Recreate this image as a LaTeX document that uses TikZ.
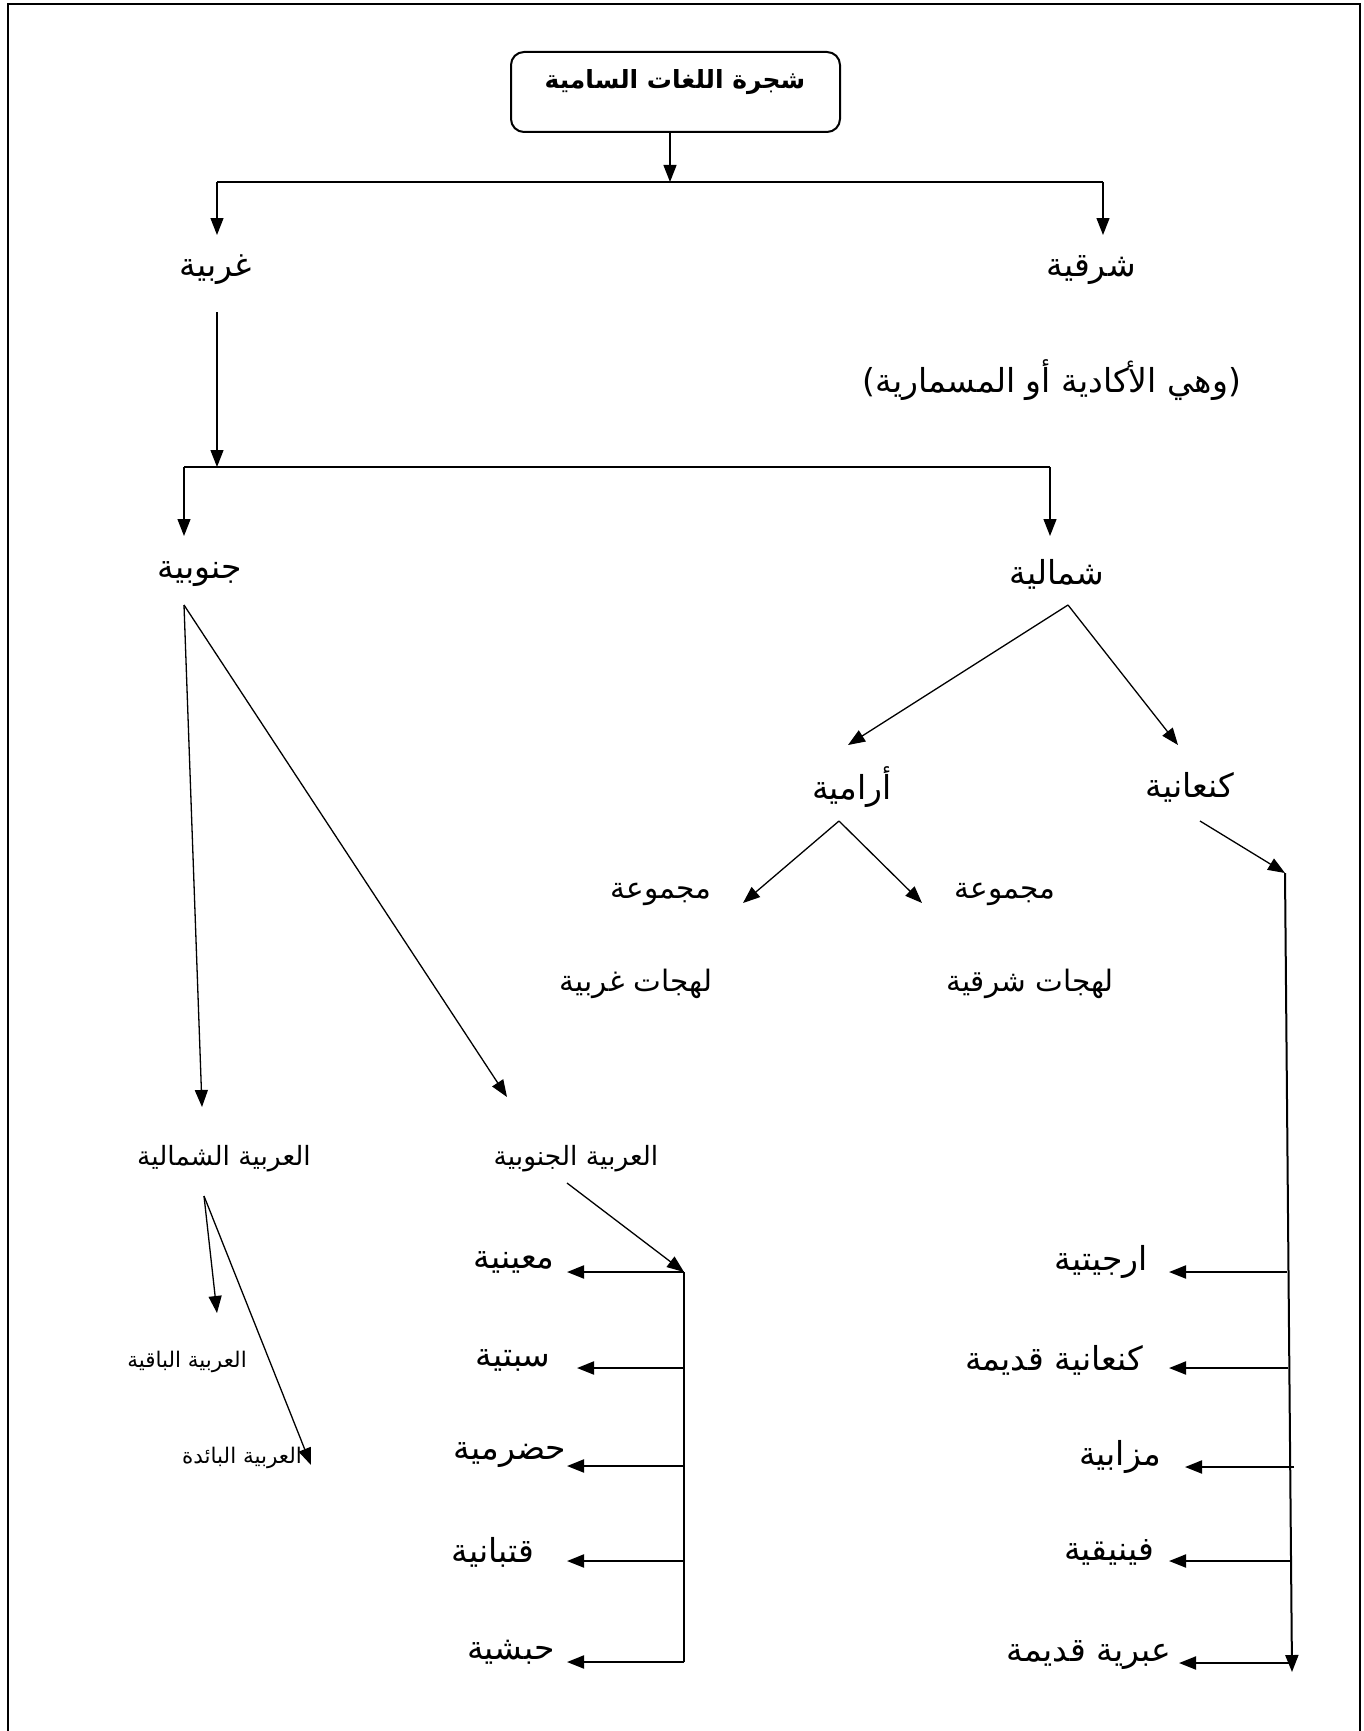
\documentclass[tikz,border=0pt]{standalone}
\usepackage{fontspec}
\usetikzlibrary{arrows.meta}
\TeXXeTstate=1
\newfontfamily\arfont[Script=Arabic]{DejaVu Sans}
\newcommand{\AR}[1]{\beginR #1\endR}
\begin{document}
\begin{tikzpicture}[x=1pt,y=-1pt,
  lbl/.style={font=\arfont\fontsize{33}{38}\selectfont, inner sep=0pt},
  grp/.style={font=\arfont\fontsize{29.5}{34}\selectfont, inner sep=0pt},
  mid/.style={font=\arfont\fontsize{26.5}{31}\selectfont, inner sep=0pt},
  small/.style={font=\arfont\fontsize{21.5}{25}\selectfont, inner sep=0pt},
  conn/.style={line width=1.3pt, -{Triangle[length=17pt,width=13pt]}},
  bus/.style={line width=2pt},
  busarrow/.style={line width=2pt, -{Triangle[length=17pt,width=13pt]}},
  bar/.style={line width=2.6pt},
]
\useasboundingbox (0,0) rectangle (1363,1731);
\draw[line width=2.5pt] (7.8,1731) -- (7.8,3.8) -- (1360,3.8) -- (1360,1731);

% title
\node[draw, rounded corners=13pt, line width=2pt, minimum width=329pt, minimum height=80pt, inner sep=0pt] (title) at (675.5,92) {};
\node[lbl, font=\arfont\bfseries\fontsize{25}{30}\selectfont] (titletext) at (675,82) {\AR{شجرة اللغات السامية}};

% labels
\node[lbl] (gharbiya) at (216,270) {\AR{غربية}};
\node[lbl] (sharqiya) at (1091,270) {\AR{شرقية}};
\node[lbl] (akkad) at (1052,380) {\AR{(وهي الأكادية أو المسمارية)}};
\node[lbl] (janubiya) at (200,574) {\AR{جنوبية}};
\node[lbl] (shamaliya) at (1057,574) {\AR{شمالية}};
\node[lbl] (aramiya) at (852,787) {\AR{أرامية}};
\node[lbl] (kanaaniya) at (1190,787) {\AR{كنعانية}};
\node[grp] (majmA) at (661,894) {\AR{مجموعة}};
\node[grp] (majmB) at (1005,894) {\AR{مجموعة}};
\node[grp] (lahG) at (636,984) {\AR{لهجات غربية}};
\node[grp] (lahS) at (1030,984) {\AR{لهجات شرقية}};
\node[mid] (arabN) at (224,1159) {\AR{العربية الشمالية}};
\node[mid] (arabS) at (576,1159) {\AR{العربية الجنوبية}};
\node[small] (baqiya) at (187,1362) {\AR{العربية الباقية}};
\node[small] (baida) at (242,1458) {\AR{العربية البائدة}};
\node[lbl] (maini) at (514,1262) {\AR{معينية}};
\node[lbl] (saba) at (513,1360) {\AR{سبتية}};
\node[lbl] (hadr) at (510,1455) {\AR{حضرمية}};
\node[lbl] (qatab) at (493,1552) {\AR{قتبانية}};
\node[lbl] (habash) at (511,1652) {\AR{حبشية}};
\node[lbl] (ugar) at (1101,1262) {\AR{ارجيتية}};
\node[lbl] (kanq) at (1054,1360) {\AR{كنعانية قديمة}};
\node[lbl] (moab) at (1120,1457) {\AR{مزابية}};
\node[lbl] (phoen) at (1109,1552) {\AR{فينيقية}};
\node[lbl] (hebr) at (1089,1655) {\AR{عبرية قديمة}};

% junction coordinates
\coordinate (j0) at (670,182);
\coordinate (b1l) at (217,182);
\coordinate (b1r) at (1103,182);
\coordinate (gA) at (217,235);
\coordinate (sA) at (1103,235);
\coordinate (gB) at (217,312);
\coordinate (j2) at (217,467);
\coordinate (b2l) at (184,467);
\coordinate (b2r) at (1050,467);
\coordinate (jnA) at (184,536);
\coordinate (shA) at (1050,536);
\coordinate (jnB) at (184,605);
\coordinate (arNA) at (202,1107);
\coordinate (arSA) at (507,1097);
\coordinate (shB) at (1068,605);
\coordinate (amA) at (848,745);
\coordinate (knA) at (1178,745);
\coordinate (amB) at (839,821);
\coordinate (mgA) at (743,903);
\coordinate (mgB) at (922,903);
\coordinate (knB) at (1200,821);
\coordinate (rbT) at (1285,873);
\coordinate (rbB) at (1292,1672);
\coordinate (arNB) at (204,1196);
\coordinate (bqA) at (217,1313);
\coordinate (bdA) at (311,1465);
\coordinate (arSB) at (567,1183);
\coordinate (lbT) at (684,1272);
\coordinate (lbB) at (684,1662);

% top level
\draw[conn] (title.south -| j0) -- (j0);
\draw[bar] (b1l) -- (b1r);
\draw[conn] (b1l) -- (gA);
\draw[conn] (b1r) -- (sA);
\draw[conn] (gB) -- (j2);
\draw[bar] (b2l) -- (b2r);
\draw[conn] (b2l) -- (jnA);
\draw[conn] (b2r) -- (shA);

% south branch
\draw[conn] (jnB) -- (arNA);
\draw[conn] (jnB) -- (arSA);
\draw[conn] (arNB) -- (bqA);
\draw[conn] (arNB) -- (bdA);
\draw[conn] (arSB) -- (lbT);
\draw[bus] (lbT) -- (lbB);
\draw[busarrow] (lbT) -- (lbT -| 567,0);
\draw[busarrow] (lbT |- 0,1368) -- (577,1368);
\draw[busarrow] (lbT |- 0,1466) -- (567,1466);
\draw[busarrow] (lbT |- 0,1561) -- (567,1561);
\draw[busarrow] (lbB) -- (567,1662);

% north branch
\draw[conn] (shB) -- (amA);
\draw[conn] (shB) -- (knA);
\draw[conn] (amB) -- (mgA);
\draw[conn] (amB) -- (mgB);
\draw[conn] (knB) -- (rbT);
\draw[busarrow] (rbT) -- (rbB);
\draw[busarrow] (1287,1272) -- (1169,1272);
\draw[busarrow] (1288,1368) -- (1169,1368);
\draw[busarrow] (1294,1467) -- (1185,1467);
\draw[busarrow] (1290,1561) -- (1169,1561);
\draw[busarrow] (1291,1663) -- (1179,1663);
\end{tikzpicture}
\end{document}
